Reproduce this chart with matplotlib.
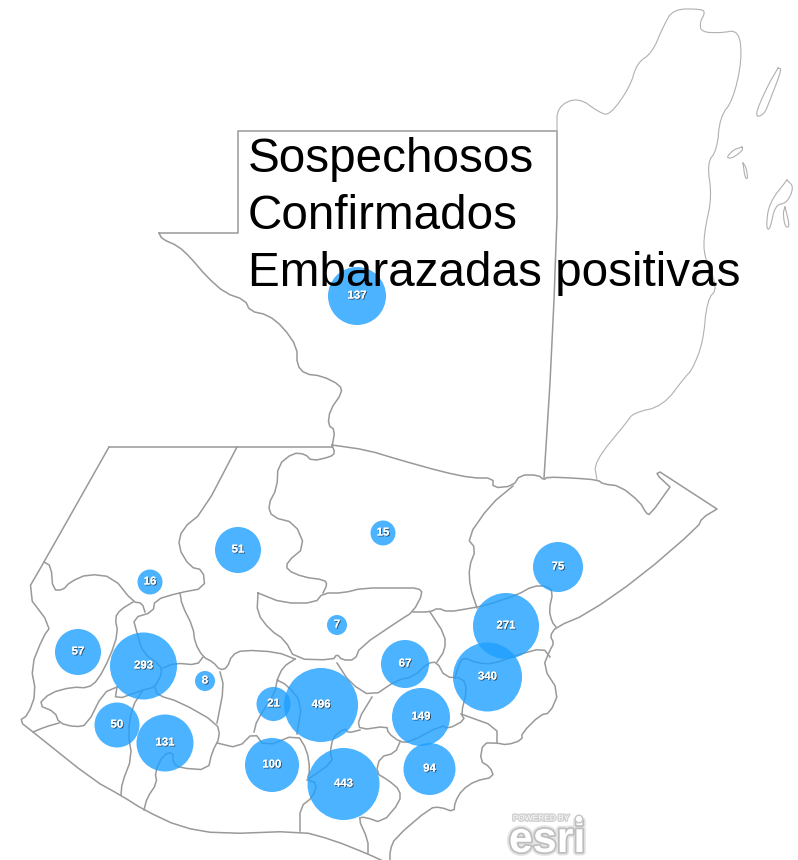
import matplotlib
matplotlib.use('Agg')
import matplotlib.pyplot as plt
import matplotlib.patheffects as pe
from matplotlib.patches import Circle

plt.rcParams['font.family'] = ['Liberation Sans', 'DejaVu Sans']

# casos por departamento
valores = [137, 51, 15, 16, 7, 57, 293, 8, 21, 496, 67, 75, 271, 340, 149, 50, 131, 100, 443, 94]
cx = [357, 238, 383, 150, 337, 78, 143.5, 205, 273.5, 321, 405, 558, 506, 487.5, 421, 117, 165, 272, 343.5, 429.5]
cy = [296, 550, 533, 582, 625, 652, 666, 681, 704, 705, 664, 567, 626, 677, 717, 725, 743, 765, 784, 769]
radio = [29, 23, 12.5, 12.5, 10, 23, 33.5, 10, 17, 37, 24, 25, 33, 34.5, 29, 22.5, 28.5, 27, 36, 26]

leyenda = ['Sospechosos', 'Confirmados', 'Embarazadas positivas']

# contornos, en pixeles de la imagen
rectos = [
    [(109, 447), (332, 447)],
    [(159, 233), (238, 233), (238, 131), (557, 131), (557, 217), (554, 300), (550, 383), (544, 478)],
]
costa_oeste = [(109, 447), (44, 562), (26, 593), (51, 626), (43, 637), (31, 667), (36, 693), (28, 715), (19, 721),
               (33, 732), (93, 780), (122, 796), (144, 810), (180, 827), (220, 834), (300, 831), (333, 840),
               (368, 854), (385, 862)]
costa_sur = [(390, 863), (390, 850), (395, 838), (430, 808), (440, 807), (454, 812), (455, 802), (462, 790), (475, 781),
             (494, 777), (490, 767), (480, 761), (483, 743), (497, 743), (507, 745), (522, 740), (522, 733), (540, 715),
             (550, 713), (559, 692), (543, 667), (550, 650), (554, 643), (550, 636), (556, 627), (587, 614), (640, 577),
             (698, 527), (702, 518), (717, 509), (717, 509), (660, 472), (660, 472), (656, 474), (670, 487), (670, 487),
             (650, 515), (646, 513), (640, 502), (620, 486), (603, 484), (598, 480), (573, 478),
             (547, 477), (544, 480), (538, 475), (520, 475), (513, 486), (493, 488), (493, 478), (472, 478), (443, 472),
             (400, 460), (367, 450), (332, 445)]
peten = [(332, 447), (335, 430), (328, 425), (330, 410), (342, 393), (340, 385), (322, 376), (305, 374),
         (297, 365), (297, 347), (283, 327), (268, 315), (250, 311), (245, 300), (225, 293), (207, 277), (190, 257),
         (178, 246), (162, 239), (159, 233)]
deptos = [
    [(237, 447), (203, 512), (182, 529), (178, 547), (190, 567), (203, 570), (205, 588), (178, 593), (155, 600),
     (153, 612), (133, 618), (137, 633), (143, 653), (160, 665), (162, 673), (155, 687), (143, 690), (115, 700),
     (117, 687)],
    [(44, 562), (51, 566), (53, 590), (63, 590), (70, 582), (88, 574), (113, 577), (133, 602), (142, 603), (145, 612)],
    [(133, 602), (120, 610), (115, 618), (118, 633), (110, 657), (98, 680), (88, 688), (72, 687), (50, 693), (38, 705),
     (55, 712), (59, 723), (75, 727), (87, 725), (103, 693), (117, 687)],
    [(33, 732), (45, 727), (59, 723)],
    [(180, 593), (182, 605), (193, 627), (195, 643), (203, 657), (213, 662), (220, 670), (227, 668), (232, 655),
     (243, 650), (277, 652), (295, 659)],
    [(203, 657), (197, 665), (175, 663), (163, 668)],
    [(220, 672), (224, 687), (217, 723)],
    [(155, 687), (157, 695), (180, 702), (217, 723), (220, 737), (212, 752), (208, 770), (180, 768), (173, 763),
     (173, 752), (163, 755), (155, 772), (157, 783), (147, 798), (144, 810)],
    [(143, 690), (132, 707), (128, 733), (132, 757), (122, 783), (121, 795)],
    [(217, 743), (238, 748), (254, 732), (265, 747), (297, 734), (307, 750), (310, 770), (307, 780), (317, 783),
     (313, 797), (300, 807), (300, 831)],
    [(295, 659), (283, 667), (277, 680), (275, 693), (257, 720), (254, 732)],
    [(277, 680), (287, 685), (302, 703), (297, 734)],
    [(258, 593), (257, 613), (270, 630), (285, 640), (295, 659), (333, 660), (337, 654), (342, 660), (355, 660),
     (360, 647), (400, 620), (413, 612), (423, 593), (418, 588), (400, 588), (363, 588), (343, 593), (323, 593),
     (315, 603), (283, 603), (258, 593)],
    [(332, 445), (335, 453), (330, 457), (312, 461), (305, 454), (293, 453), (278, 465), (277, 488), (268, 505),
     (272, 517), (295, 523), (305, 547), (287, 562), (287, 570), (303, 577), (325, 580), (327, 585), (323, 593)],
    [(337, 663), (350, 683), (372, 697), (397, 680), (413, 677), (428, 663), (437, 662), (445, 677), (463, 678),
     (467, 690), (461, 714), (465, 720), (448, 729), (442, 725), (410, 742), (400, 742), (388, 733), (387, 726),
     (360, 730), (358, 720), (372, 697)],
    [(360, 730), (348, 733), (345, 728), (333, 737), (330, 753), (333, 762), (307, 780)],
    [(400, 742), (395, 753), (380, 757), (376, 773), (388, 780), (400, 790), (400, 802), (382, 823), (365, 817),
     (358, 818), (368, 840), (368, 853)],
    [(430, 612), (445, 635), (445, 650), (437, 662)],
    [(413, 612), (430, 612), (438, 608), (448, 612), (472, 608), (487, 605), (517, 595), (533, 586), (547, 586),
     (553, 592), (549, 610), (552, 622), (556, 627)],
    [(477, 608), (470, 587), (469, 567), (476, 549), (467, 538), (490, 505), (513, 486)],
    [(455, 678), (458, 667), (463, 657), (477, 663), (493, 664), (517, 655), (543, 648), (550, 657)],
    [(461, 714), (497, 727), (497, 743)],
]
belice = [(597, 480), (594, 462), (627, 422), (633, 413), (663, 406), (685, 377), (692, 370), (703, 343), (707, 300),
          (718, 288), (704, 257), (704, 233), (712, 197), (707, 163), (717, 150), (720, 117), (733, 100), (742, 60),
          (739, 30), (720, 33), (701, 32), (700, 22), (705, 13), (702, 9), (673, 9), (663, 27), (652, 53), (637, 63),
          (630, 87), (610, 115), (600, 113), (578, 97), (557, 107), (557, 131)]
cayos = [
    [(778, 68), (782, 69), (770, 100), (764, 115), (754, 117), (767, 87), (778, 68)],
    [(742, 147), (743, 150), (733, 158), (726, 158), (733, 150), (742, 147)],
    [(743, 163), (746, 167), (748, 179), (745, 178), (743, 163)],
    [(787, 180), (794, 187), (787, 203), (775, 205), (770, 230), (766, 228), (769, 203), (787, 180)],
    [(785, 207), (790, 227), (785, 227), (783, 213), (785, 207)],
]


# redondea las esquinas de un contorno
def suavizar(linea, pasos=2):
    for _ in range(pasos):
        nueva = [linea[0]]
        for a, b in zip(linea[:-1], linea[1:]):
            nueva.append((a[0] * 0.75 + b[0] * 0.25, a[1] * 0.75 + b[1] * 0.25))
            nueva.append((a[0] * 0.25 + b[0] * 0.75, a[1] * 0.25 + b[1] * 0.75))
        nueva.append(linea[-1])
        linea = nueva
    return linea


fig = plt.figure(figsize=(7.98, 8.6), dpi=100)
ax = fig.add_axes([0, 0, 1, 1])
ax.set_xlim(0, 798)
ax.set_ylim(860, 0)
ax.axis('off')

for linea in rectos:
    ax.plot([p[0] for p in linea], [p[1] for p in linea], color='#999999', lw=1.1, zorder=1)
for linea in [costa_oeste, costa_sur, peten] + deptos:
    s = suavizar(linea, 1)
    ax.plot([p[0] for p in s], [p[1] for p in s], color='#999999', lw=1.1, solid_joinstyle='round', zorder=1)
for linea in [belice] + cayos:
    s = suavizar(linea, 2)
    ax.plot([p[0] for p in s], [p[1] for p in s], color='#b0b0b0', lw=0.8, solid_joinstyle='round', zorder=1)

sombra = [pe.withSimplePatchShadow(offset=(0.7, -0.7), shadow_rgbFace='#222222', alpha=0.7), pe.Normal()]
for i, v in enumerate(valores):
    ax.add_patch(Circle((cx[i], cy[i]), radio[i], facecolor='#1ea0ff', alpha=0.8, edgecolor='none', zorder=2))
    ax.text(cx[i], cy[i] - 0.5, str(v), color='white', fontsize=8.2, fontweight='bold',
            ha='center', va='center', path_effects=sombra, zorder=3)

# texto de la leyenda encima del mapa
for nombre, base in zip(leyenda, [172, 229, 286]):
    ax.text(248, base, nombre, fontsize=34.3, color='black', ha='left', va='baseline', zorder=4)

# logo
ax.text(541, 819, 'POWERED BY', color='white', fontsize=6, ha='center', va='center',
        path_effects=[pe.withStroke(linewidth=2, foreground='#d0d0d0')], zorder=3)
ax.text(547, 852, 'esri', color='white', fontsize=31, fontweight='bold', ha='center', va='baseline',
        path_effects=[pe.withStroke(linewidth=5, foreground='#e4e4e4'), pe.withStroke(linewidth=2.5, foreground='#bdbdbd')],
        zorder=3)
ax.add_patch(Circle((579, 819), 3.8, facecolor='white', edgecolor='#c4c4c4', lw=1, zorder=3))

fig.savefig('out.png', dpi=100, facecolor='white')
